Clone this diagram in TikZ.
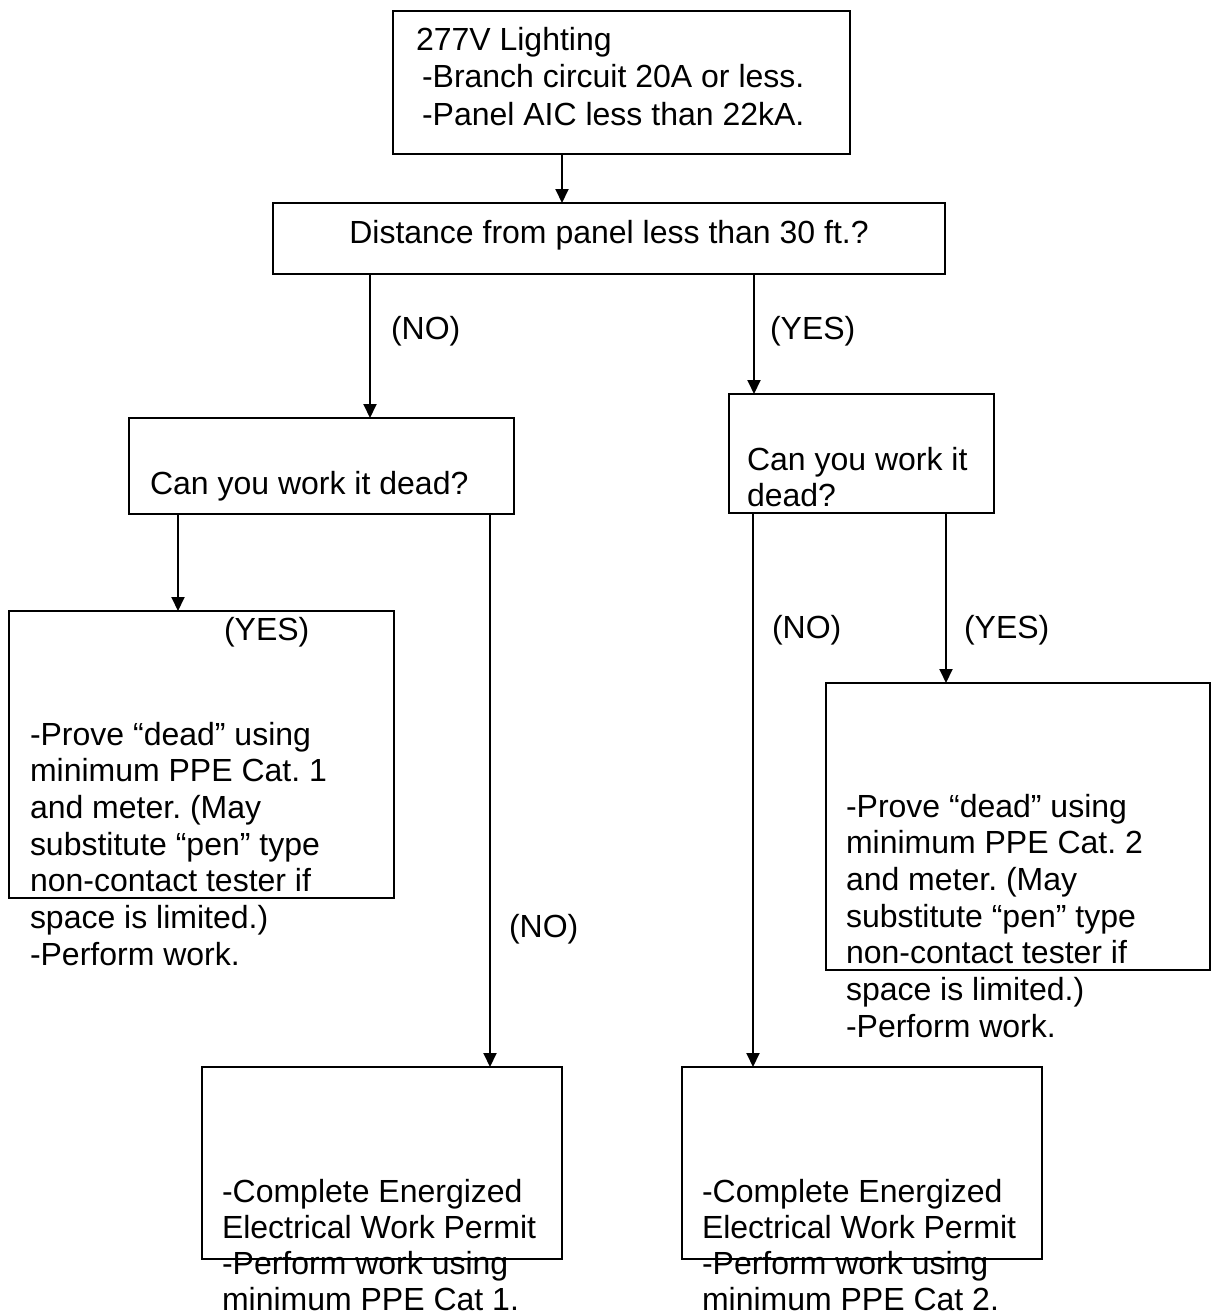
\documentclass[tikz,border=0pt]{standalone}
\usepackage{fontspec}
\setmainfont{Liberation Sans}
\usetikzlibrary{arrows.meta}
\newcommand\txtlines[1]{\vtop{\halign{##\hfil\cr#1\crcr}}}
\frenchspacing
\begin{document}
\begin{tikzpicture}[x=1pt,y=-1pt,
  box/.style={draw, line width=1.9pt, inner sep=0pt, outer sep=0pt, anchor=north west},
  txt/.style={inner sep=0pt, outer sep=0pt, anchor=base west, font=\fontsize{32}{36.7}\selectfont},
  ctxt/.style={txt, anchor=base},
  arr/.style={line width=1.9pt, -{Triangle[length=14pt,width=13pt]}}]
\useasboundingbox[fill=white] (0,0) rectangle (1211,1315);

% boxes
\node[box, minimum width=457pt, minimum height=143pt] (top)  at (393,11) {};
\node[box, minimum width=672pt, minimum height=71pt]  (dist) at (273,203) {};
\node[box, minimum width=385pt, minimum height=96pt]  (cwL)  at (129,418) {};
\node[box, minimum width=265pt, minimum height=119pt] (cwR)  at (729,394) {};
\node[box, minimum width=385pt, minimum height=287pt] (yesL) at (9,611) {};
\node[box, minimum width=384pt, minimum height=287pt] (yesR) at (826,683) {};
\node[box, minimum width=360pt, minimum height=192pt] (botL) at (202,1067) {};
\node[box, minimum width=360pt, minimum height=192pt] (botR) at (682,1067) {};

% texts
\node[txt, font=\fontsize{32}{37.5}\selectfont] (t0) at (416,50)
  {\txtlines{277V Lighting\cr\kern6pt-Branch circuit 20A or less.\cr\kern6pt-Panel AIC less than 22kA.}};
\node[ctxt] (t1) at (609,243) {Distance from panel less than 30 ft.?};
\node[txt] (t2) at (391,339) {(NO)};
\node[txt] (t3) at (770,339) {(YES)};
\node[txt] (t4) at (150,494) {Can you work it dead?};
\node[txt] (t5) at (747,470) {\txtlines{Can you work it\cr dead?}};
\node[txt] (t6) at (224,640) {(YES)};
\node[txt] (t7) at (30,745) {\txtlines{-Prove “dead” using\cr minimum PPE Cat. 1\cr and meter. (May\cr substitute “pen” type\cr non-contact tester if\cr space is limited.)\cr -Perform work.}};
\node[txt] (t8) at (509,937) {(NO)};
\node[txt] (t9) at (772,638) {(NO)};
\node[txt] (t10) at (964,638) {(YES)};
\node[txt] (t11) at (846,817) {\txtlines{-Prove “dead” using\cr minimum PPE Cat. 2\cr and meter. (May\cr substitute “pen” type\cr non-contact tester if\cr space is limited.)\cr -Perform work.}};
\node[txt, font=\fontsize{32}{36.3}\selectfont] (t12) at (222,1202) {\txtlines{-Complete Energized\cr Electrical Work Permit\cr -Perform work using\cr minimum PPE Cat 1.}};
\node[txt, font=\fontsize{32}{36.3}\selectfont] (t13) at (702,1202) {\txtlines{-Complete Energized\cr Electrical Work Permit\cr -Perform work using\cr minimum PPE Cat 2.}};

% connector x positions
\coordinate (xa) at (562,0);
\coordinate (xb) at (370,0);
\coordinate (xc) at (754,0);
\coordinate (xd) at (178,0);
\coordinate (xe) at (490,0);
\coordinate (xf) at (753,0);
\coordinate (xg) at (946,0);

% connectors
\draw[arr] (top.south -| xa) -- (dist.north -| xa);
\draw[arr] (dist.south -| xb) -- (cwL.north -| xb);
\draw[arr] (dist.south -| xc) -- (cwR.north -| xc);
\draw[arr] (cwL.south -| xd) -- (yesL.north -| xd);
\draw[arr] (cwL.south -| xe) -- (botL.north -| xe);
\draw[arr] (cwR.south -| xf) -- (botR.north -| xf);
\draw[arr] (cwR.south -| xg) -- (yesR.north -| xg);
\end{tikzpicture}
\end{document}
